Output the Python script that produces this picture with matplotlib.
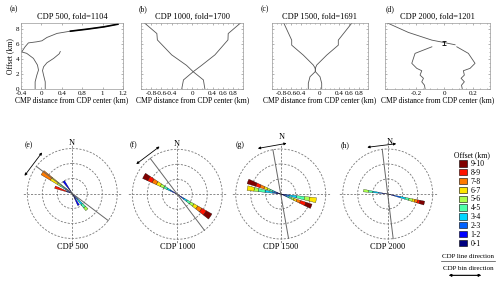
import numpy as np
import matplotlib.pyplot as plt
from matplotlib.patches import Patch
from matplotlib.lines import Line2D
from matplotlib.ticker import MultipleLocator

plt.rcParams['font.family'] = ['Liberation Serif', 'DejaVu Serif']
plt.rcParams['font.size'] = 5.5

# ---- top row: offset vs CMP distance ----
# (a) CDP 500  (tick labels are evenly spaced in the original)
a_ticks = [-0.4, 0, 0.4, 0.8, 1, 1.2]
a_left_x = [-0.123, -0.123, -0.089, -0.057, -0.077, -0.156, -0.287, -0.386, -0.32,
            -0.255, -0.089, 0.01, 0.109, 0.307, 0.57, 0.85, 1.015, 1.15]
a_left_y = [0, 1.0, 1.9, 2.57, 3.24, 4.13, 4.8, 5.0, 5.68,
            6.2, 6.35, 6.48, 6.93, 7.47, 7.77, 8.04, 8.35, 8.7]
a_right_x = [0.075, 0.075, 0.042, 0.022, 0.042, 0.109, 0.24, 0.35, 0.37]
a_right_y = [0, 1.0, 1.9, 2.5, 3.0, 3.55, 4.13, 4.75, 5.05]

# (b) CDP 1000
b_y = [9.0, 7.45, 6.6, 4.6, 3.2, 2.35, 1.25, 0]
b_left_x = [-0.955, -0.69, -0.68, -0.40, -0.11, 0.02, 0.22, 0.25]
b_right_x = [0.97, 0.705, 0.70, 0.445, 0.185, 0.02, -0.17, -0.205]

# (c) CDP 1500
c_y = [9.0, 6.57, 5.9, 4.57, 3.24, 2.8]
c_left_x = [-0.76, -0.586, -0.586, -0.346, -0.139, -0.097]
c_right_x = [0.677, 0.379, 0.379, 0.139, -0.068, -0.097]
c_lens_y = [2.8, 2.37, 1.68, 0.8, 0]
c_lens_left_x = [-0.097, -0.097, -0.207, -0.242, -0.242]
c_lens_right_x = [-0.097, -0.097, 0.0, 0.035, 0.035]

# (d) CDP 2000
d_top_x = [-0.416, -0.253, -0.088, -0.007, 0.075]
d_top_y = [9.0, 7.6, 6.57, 6.27, 5.95]
d_low_y = [5.68, 4.8, 3.47, 2.8, 2.48, 1.9, 1.47, 1.0, 0.55, 0]
d_left_x = [-0.088, -0.206, -0.229, -0.194, -0.159, -0.171, -0.147, -0.159, -0.14, -0.135]
d_right_x = [0.087, 0.168, 0.215, 0.18, 0.133, 0.14, 0.117, 0.14, 0.12, 0.126]

titles = ['CDP 500, fold=1104', 'CDP 1000, fold=1700', 'CDP 1500, fold=1691', 'CDP 2000, fold=1201']
bc_ticks = [-0.8, -0.6, -0.4, 0, 0.4, 0.6, 0.8]
bc_labels = ['-0.8', '-0.6', '-0.4', '0', '0.4', '0.6', '0.8']

# ---- bottom row: rose diagrams (azimuth in deg, stacked length per offset bin) ----
offset_bins = ['0-1', '1-2', '2-3', '3-4', '4-5', '5-6', '6-7', '7-8', '8-9', '9-10']
rose_az = [
    [305, 325, 290, 152, 138],
    [299, 124],
    [280, 291, 100, 112],
    [278, 104],
]
rose_len = [
    [[0.5, 0.6, 0.7, 0.6, 0.8, 0.9, 1.9, 2.5, 0, 0],
     [1.4, 2.1, 0, 0, 0, 0, 0, 0, 0, 0],
     [0.6, 0.6, 0.3, 0, 0, 0, 0, 0, 2.8, 0],
     [1.4, 1.7, 0, 0, 0, 0, 0, 0, 0, 0],
     [0.5, 0.6, 0.7, 1.5, 1.0, 0.8, 0, 0, 0, 0]],
    [[0.6, 0.6, 0.7, 0.8, 0.8, 0.9, 1.0, 1.1, 1.1, 1.3],
     [0.6, 0.6, 0.7, 0.8, 0.9, 0.9, 1.0, 1.1, 1.2, 1.5]],
    [[0.5, 0.6, 0.8, 1.8, 1.6, 1.0, 1.6, 0, 0, 0],
     [0.4, 0.5, 0.6, 0.6, 0.6, 0.6, 0.8, 1.0, 1.0, 2.1],
     [0.5, 0.6, 0.9, 1.8, 1.8, 1.2, 1.6, 0, 0, 0],
     [0.4, 0.5, 0.6, 0.6, 0.6, 0.6, 0.7, 0.9, 1.3, 1.5]],
    [[0.5, 0.8, 0.9, 1.3, 1.0, 1.2, 0, 0, 0, 0],
     [0.9, 0.7, 1.4, 1.2, 0.9, 0.8, 0.6, 0.6, 0.6, 1.1]],
]
rose_width = [8, 9, 8, 6]
line_az = [307, 323, 350, 353]
rose_names = ['CDP 500', 'CDP 1000', 'CDP 1500', 'CDP 2000']

W, H = 500, 281
fig = plt.figure(figsize=(5, 2.81), dpi=100)


def box(l, t, r, b):
    return [l / W, 1 - b / H, (r - l) / W, (b - t) / H]


def ftext(x, y, s, **kw):
    fig.text(x / W, 1 - y / H, s, ha='center', va='center', **kw)


top_boxes = [(21, 22.7, 123, 89.3), (141, 22.7, 243.3, 89.3),
             (271.7, 22.7, 368.3, 89.3), (385, 22.7, 490, 89.3)]
curve = dict(color='#555555', lw=0.6)
axs = []
for i, bx in enumerate(top_boxes):
    ax = fig.add_axes(box(*bx))
    axs.append(ax)
    ax.set_ylim(0, 8.9)
    ax.set_yticks([0, 2, 4, 6, 8])
    ax.yaxis.set_minor_locator(MultipleLocator(0.5))
    ax.tick_params(which='both', direction='in', top=True, right=True, width=0.4,
                   color='#777777', pad=1, labelsize=5)
    ax.tick_params(which='major', length=1.6)
    ax.tick_params(which='minor', length=0.9)
    ax.tick_params(axis='x', pad=1.2)
    for s in ax.spines.values():
        s.set_color('#999999')
        s.set_linewidth(0.5)
    ax.set_title(titles[i], fontsize=6, pad=2.5)
    ax.set_xlabel('CMP distance from CDP center (km)', fontsize=5.5, labelpad=0.5)
    if i > 0:
        ax.set_yticklabels([])

ax = axs[0]
pos = np.arange(len(a_ticks), dtype=float)
ax.set_xscale('function', functions=(lambda x: np.interp(x, a_ticks, pos),
                                      lambda p: np.interp(p, pos, a_ticks)))
ax.set_xlim(-0.4, 1.2)
ax.set_xticks(a_ticks)
ax.set_xticklabels(['-0.4', '0', '0.4', '0.8', '1', '1.2'])
ax.plot(a_left_x, a_left_y, **curve)
ax.plot(a_left_x[-4:], a_left_y[-4:], color='k', lw=1.2)
ax.plot(a_right_x, a_right_y, **curve)
ax.set_ylabel('Offset (km)', fontsize=5.5, labelpad=1)

ax = axs[1]
ax.set_xlim(-1, 1)
ax.set_xticks(bc_ticks)
ax.set_xticklabels(bc_labels)
ax.xaxis.set_minor_locator(MultipleLocator(0.1))
ax.plot(b_left_x, b_y, **curve)
ax.plot(b_right_x, b_y, **curve)

ax = axs[2]
ax.set_xlim(-1, 1)
ax.set_xticks(bc_ticks)
ax.set_xticklabels(bc_labels)
ax.xaxis.set_minor_locator(MultipleLocator(0.1))
ax.plot(c_left_x, c_y, **curve)
ax.plot(c_right_x, c_y, **curve)
ax.plot(c_lens_left_x, c_lens_y, **curve)
ax.plot(c_lens_right_x, c_lens_y, **curve)

ax = axs[3]
ax.set_xlim(-0.417, 0.32)
ax.set_xticks([-0.2, 0, 0.2])
ax.set_xticklabels(['-0.2', '0', '0.2'])
ax.xaxis.set_minor_locator(MultipleLocator(0.05))
ax.plot(d_top_x, d_top_y, **curve)
ax.errorbar([0], [6.2], yerr=[0.22], color='k', lw=0.6, capsize=1.5, capthick=0.6)
ax.plot(d_left_x, d_low_y, **curve)
ax.plot(d_right_x, d_low_y, **curve)

for lab, (x, y) in zip(['(a)', '(b)', '(c)', '(d)'],
                       [(14, 9.3), (143.3, 9.3), (265, 9.3), (390, 9.3)]):
    ftext(x, y, lab, fontsize=5.5)

# ---- rose diagrams ----
colors = plt.cm.jet(np.linspace(0, 1, 10))
centers = [(72.3, 193.5), (177.3, 194.3), (280.7, 194), (387.7, 194)]
half = 49.7
n_pos = [(72, 143), (177, 144), (282, 137), (390, 141.7)]
lab_pos = [(29, 145), (133, 145), (240, 145), (345, 145)]
for i, (cx, cy) in enumerate(centers):
    ax = fig.add_axes(box(cx - half, cy - half, cx + half, cy + half), projection='polar')
    ax.set_theta_zero_location('N')
    ax.set_theta_direction(-1)
    ax.set_ylim(0, 11.6)
    ax.set_yticks([3.5, 7, 10.5])
    ax.set_yticklabels([])
    ax.set_xticks(np.radians([0, 90, 180, 270]))
    ax.set_xticklabels([])
    ax.grid(True, linestyle=(0, (2.5, 1.8)), color='#777777', lw=0.6)
    ax.set_axisbelow(True)
    ax.spines['polar'].set_visible(False)
    ax.patch.set_alpha(0)

    w = np.radians(rose_width[i])
    for az, stack in zip(rose_az[i], rose_len[i]):
        bottom = 0
        for k, h in enumerate(stack):
            if h > 0:
                ax.bar(np.radians(az), h, width=w, bottom=bottom, color=colors[k],
                       edgecolor='k', linewidth=0.2)
            bottom += h

    a = np.radians(line_az[i])
    ax.plot([a, a, a + np.pi], [10.5, 0, 10.5], color='#666666', lw=0.7)

    # CDP bin direction arrow, perpendicular to the line, outside the circle
    r0, hl = 11.4, 3.4
    px, py = r0 * np.sin(a), r0 * np.cos(a)
    ends = []
    for s in (-1, 1):
        x = px + s * hl * np.cos(a)
        y = py - s * hl * np.sin(a)
        ends.append((np.arctan2(x, y), np.hypot(x, y)))
    ax.annotate('', xy=ends[1], xytext=ends[0], annotation_clip=False,
                arrowprops=dict(arrowstyle='<|-|>', lw=0.6, color='k',
                                shrinkA=0, shrinkB=0, mutation_scale=3.5))

    ftext(*n_pos[i], 'N', fontsize=6)
    ftext(cx, 247.3, rose_names[i], fontsize=6)
    ftext(*lab_pos[i], '(' + 'efgh'[i] + ')', fontsize=5.5)

# ---- legend ----
handles = [Patch(facecolor=colors[k], edgecolor='k', linewidth=0.4) for k in range(9, -1, -1)]
fig.legend(handles, offset_bins[::-1], loc='upper left', bbox_to_anchor=(0.903, 0.47),
           title='Offset (km)', title_fontsize=5.5, fontsize=5.5, frameon=False,
           handlelength=1.05, handleheight=0.9, handletextpad=0.45,
           labelspacing=0.11, borderpad=0.3, borderaxespad=0)

ftext(468, 256.7, 'CDP line direction', fontsize=5)
fig.add_artist(Line2D([441 / W, 495 / W], [1 - 261 / H, 1 - 261 / H], color='#444444', lw=0.5))
ftext(468, 268.7, 'CDP bin direction', fontsize=5)
fig.add_artist(plt.annotate('', xy=(481 / W, 1 - 275.3 / H), xytext=(449 / W, 1 - 275.3 / H),
                            xycoords='figure fraction',
                            arrowprops=dict(arrowstyle='<|-|>', lw=0.6, color='k',
                                            shrinkA=0, shrinkB=0, mutation_scale=3.5)))

fig.savefig('out.png', dpi=100)
